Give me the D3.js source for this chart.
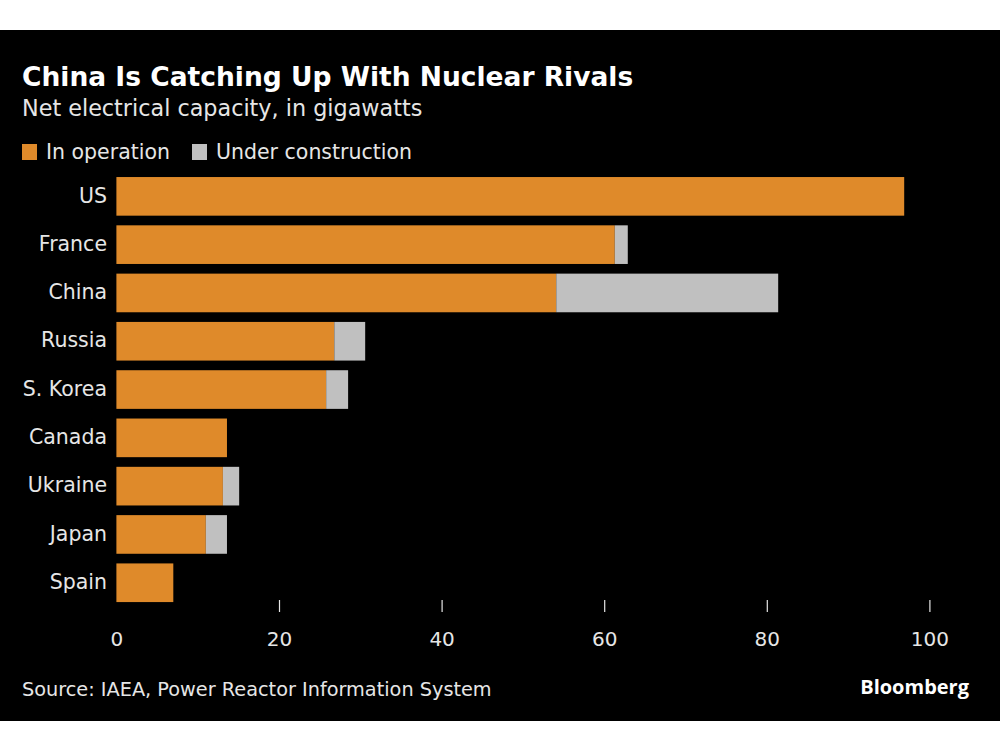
<!DOCTYPE html>
<html>
<head>
<meta charset="utf-8">
<script src="https://cdn.jsdelivr.net/npm/d3@7"></script>
<style>
  html, body { margin: 0; padding: 0; background: #fff; }
  svg { display: block; }
  text { font-family: "DejaVu Sans", sans-serif; }
</style>
</head>
<body>
<svg id="chart" width="1000" height="750"></svg>
<script>
const countries = ["US", "France", "China", "Russia", "S. Korea", "Canada", "Ukraine", "Japan", "Spain"];
const inOperation = [96.9, 61.3, 54.1, 26.8, 25.8, 13.6, 13.1, 11.0, 7.0];
const underConstruction = [0, 1.6, 27.3, 3.8, 2.7, 0, 2.0, 2.6, 0];
const xTicks = [0, 20, 40, 60, 80, 100];
const seriesNames = ["In operation", "Under construction"];
const colors = ["#df8a2a", "#c0c0c0"];

const svg = d3.select("#chart");
const textColor = "#e6e6e6";

svg.append("rect").attr("x", 0).attr("y", 30).attr("width", 1000).attr("height", 691).attr("fill", "#000");

const x = d3.scaleLinear().domain([0, 100]).range([116.4, 929.4]);
const y = d3.scaleBand().domain(countries).range([172.2, 606.9]).paddingInner(0.2).paddingOuter(0.1);

const rows = countries.map((c, i) => ({ c, op: inOperation[i], uc: underConstruction[i] }));

// bars
const g = svg.append("g");
g.selectAll("rect.op").data(rows).join("rect")
  .attr("x", x(0)).attr("y", d => y(d.c))
  .attr("width", d => x(d.op) - x(0)).attr("height", y.bandwidth())
  .attr("fill", colors[0]);
g.selectAll("rect.uc").data(rows.filter(d => d.uc > 0)).join("rect")
  .attr("x", d => x(d.op)).attr("y", d => y(d.c))
  .attr("width", d => x(d.op + d.uc) - x(d.op)).attr("height", y.bandwidth())
  .attr("fill", colors[1]);

// y labels
svg.append("g").selectAll("text").data(countries).join("text")
  .attr("x", 107).attr("y", d => y(d) + y.bandwidth() / 2 - 1)
  .attr("dy", "0.35em").attr("text-anchor", "end")
  .attr("fill", textColor).attr("font-size", 20.5)
  .text(d => d);

// x axis
const xAxis = d3.axisBottom(x).tickValues(xTicks).tickSize(12).tickPadding(20).tickFormat(d3.format("d"));
const ax = svg.append("g").attr("transform", "translate(0,600)").call(xAxis);
ax.select(".domain").remove();
ax.selectAll(".tick line").attr("stroke", textColor).attr("stroke-width", 1.2)
  .attr("opacity", d => d === 0 ? 0 : 1);
ax.selectAll(".tick text").attr("fill", textColor).attr("font-size", 20)
  .attr("font-family", "DejaVu Sans, sans-serif");

// title
svg.append("text").attr("x", 22).attr("y", 86).attr("fill", "#fff")
  .attr("font-size", 26.5).attr("font-weight", "bold")
  .text("China Is Catching Up With Nuclear Rivals");
svg.append("text").attr("x", 22).attr("y", 116).attr("fill", textColor)
  .attr("font-size", 22.3)
  .text("Net electrical capacity, in gigawatts");

// legend
const legend = svg.append("g");
const legendX = [22, 192];
seriesNames.forEach((n, i) => {
  legend.append("rect").attr("x", legendX[i]).attr("y", 144).attr("width", 15).attr("height", 16).attr("fill", colors[i]);
  legend.append("text").attr("x", legendX[i] + 24).attr("y", 152).attr("dy", "0.35em")
    .attr("fill", textColor).attr("font-size", 20.5).text(n);
});

// footer
svg.append("text").attr("x", 22).attr("y", 696).attr("fill", textColor)
  .attr("font-size", 19.3).text("Source: IAEA, Power Reactor Information System");
svg.append("text").attr("x", 969).attr("y", 694).attr("text-anchor", "end").attr("fill", "#fff")
  .attr("font-size", 20).attr("font-weight", "bold")
  .style("font-family", "'Open Sans', sans-serif")
  .text("Bloomberg");
</script>
</body>
</html>
